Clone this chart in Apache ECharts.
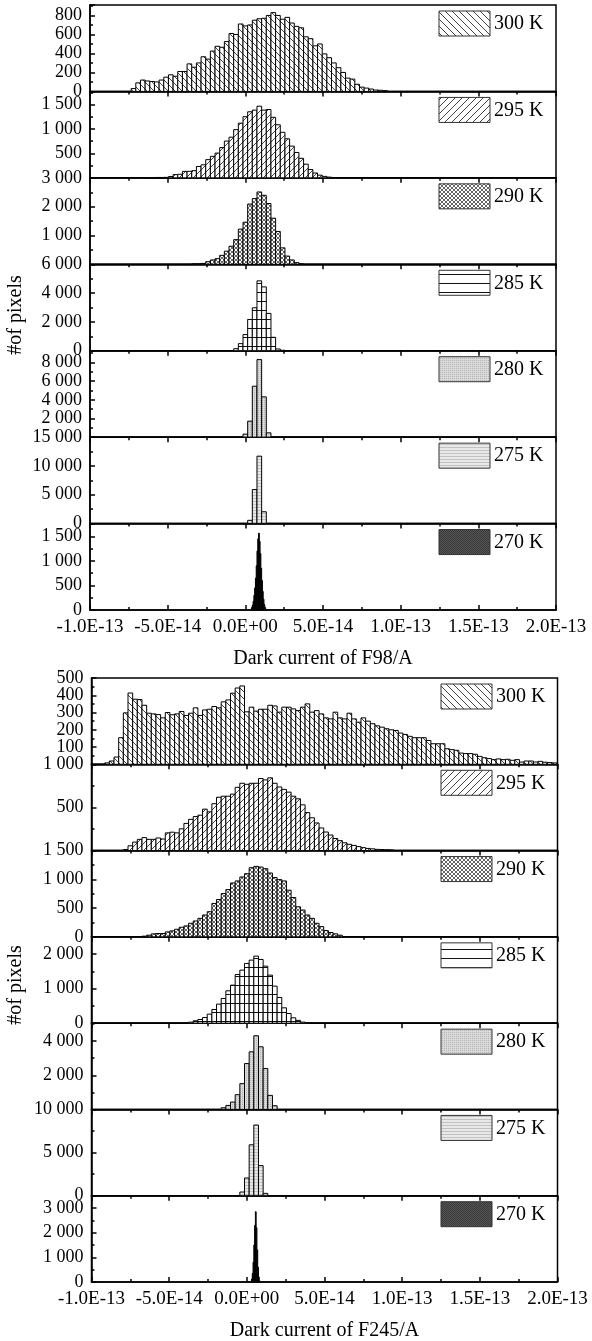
<!DOCTYPE html>
<html><head><meta charset="utf-8">
<script src="https://cdn.jsdelivr.net/npm/echarts@6/dist/echarts.min.js"></script>
<style>html,body{margin:0;padding:0;background:#fff}#c{width:592px;height:1341px}</style>
</head><body><div id="c"></div>
<script>
// ---------- DATA (x in units of 1e-14 A, counts = # of pixels) ----------
var temps = ['300 K', '295 K', '290 K', '285 K', '280 K', '275 K', '270 K'];
var xTickLabels = ['-1.0E-13', '-5.0E-14', '0.0E+00', '5.0E-14', '1.0E-13', '1.5E-13', '2.0E-13'];
var binWidth = 0.3;      // 3E-15 A
var binWidthFine = 0.05; // 5E-16 A (270 K)

// F98
var f98_300_start = -7.35;
var f98_300 = [30, 90, 120, 110, 105, 100, 120, 150, 175, 160, 210, 210, 290, 255, 300, 365, 340, 425, 475, 465, 525, 610, 600, 710, 690, 700, 750, 765, 770, 800, 830, 800, 760, 780, 720, 685, 670, 575, 555, 480, 500, 395, 355, 300, 250, 200, 140, 130, 75, 45, 35, 25, 15, 12, 8];
var f98_295_start = -6.45;
var f98_295 = [5, 5, 8, 8, 10, 27, 67, 73, 133, 133, 147, 233, 267, 373, 440, 507, 620, 753, 833, 987, 1120, 1253, 1353, 1387, 1467, 1387, 1400, 1240, 1087, 933, 800, 650, 520, 400, 280, 170, 100, 55, 30, 15];
var f98_290_start = -3.45;
var f98_290 = [10, 15, 30, 90, 150, 195, 310, 455, 627, 855, 1220, 1460, 2090, 2280, 2510, 2395, 2110, 1600, 1140, 570, 285, 150, 57, 15];
var f98_285_start = -0.75;
var f98_285 = [140, 490, 1120, 2170, 2980, 4850, 4430, 2590, 930, 120, 30];
var f98_280_start = -0.15;
var f98_280 = [320, 1710, 5450, 8300, 4310, 460];
var f98_275_start = 0.15;
var f98_275 = [565, 5900, 11700, 2050];
var f98_270_start = 0.35;
var f98_270 = [20, 50, 100, 180, 300, 450, 650, 900, 1200, 1450, 1565, 1400, 1150, 850, 600, 380, 220, 110, 50, 20];

// F245
var f245_300_start = -9.15;
var f245_300 = [8, 19, 42, 154, 298, 413, 377, 375, 342, 296, 292, 288, 269, 300, 287, 292, 306, 283, 296, 327, 283, 315, 319, 335, 327, 362, 373, 412, 442, 454, 304, 331, 308, 319, 319, 342, 338, 302, 331, 331, 321,
  311, 331, 350, 302, 311, 292, 269, 263, 302, 269, 263, 296, 263, 244, 269, 250, 235, 223, 215, 206, 200, 196, 181, 173, 162, 154, 154, 154, 138, 119, 119, 119, 90, 85, 81, 65, 62, 62, 58, 46, 38, 33, 27, 31, 27, 29, 23, 27, 13, 19, 19, 13, 17, 12, 10, 8];
var f245_295_start = -7.95;
var f245_295 = [12, 55, 98, 130, 150, 130, 130, 146, 134, 205, 213, 205, 252, 315, 362, 394, 410, 480, 449, 543, 618, 630, 630, 654, 733, 780, 768, 780, 780, 835, 819, 843, 780, 737, 709, 677, 630,
  600, 530, 440, 380, 320, 262, 215, 180, 140, 115, 90, 72, 60, 46, 34, 25, 20, 14, 12, 10, 8];
var f245_290_start = -6.75;
var f245_290 = [12, 29, 52, 58, 58, 86, 104, 132, 167, 190, 236, 276, 322, 380, 437, 581, 650, 753, 822, 937, 972, 1041, 1098, 1202, 1225, 1213, 1185, 1110, 1030, 995, 972, 811, 684,
  523, 466, 380, 322, 236, 178, 109, 75, 52, 29];
var f245_285_start = -3.75;
var f245_285 = [29, 68, 106, 164, 261, 396, 551, 715, 937, 1101, 1410, 1536, 1729, 1826, 1942, 1845, 1652, 1391, 1072, 744, 444, 280, 155, 80, 30, 10];
var f245_280_start = -1.65;
var f245_280 = [98, 235, 431, 862, 1509, 2685, 3371, 4312, 3665, 2391, 823, 216];
var f245_275_start = -0.45;
var f245_275 = [427, 2056, 5900, 8190, 3490, 272];
var f245_270_start = 0.25;
var f245_270 = [30, 120, 350, 800, 1500, 2300, 2850, 2200, 1300, 600, 200, 50];

// y axis scales
var f98YMax = [910, 1770, 3000, 6000, 9250, 15000, 1760];
var f98YStep = [200, 500, 1000, 2000, 2000, 5000, 500];
var f245YMax = [500, 1000, 1500, 2500, 5050, 10000, 3500];
var f245YStep = [100, 500, 500, 1000, 2000, 5000, 1000];

// ---------- STYLE / LAYOUT ----------
var FONT = 'Liberation Serif';
var X_MIN = -10, X_MAX = 20, X_STEP = 5;

function makePattern(kind) {
  var c = document.createElement('canvas'), x;
  function init(w, h, bg) { c.width = w; c.height = h; x = c.getContext('2d'); x.fillStyle = bg; x.fillRect(0, 0, w, h); }
  var s, k;
  if (kind === 'back' || kind === 'fwd') {
    s = 7; init(s, s, '#fff'); x.strokeStyle = '#444'; x.lineWidth = 1; x.beginPath();
    for (k = -1; k <= 1; k++) {
      if (kind === 'back') { x.moveTo(k * s, 0); x.lineTo(k * s + s, s); }
      else { x.moveTo(k * s, s); x.lineTo(k * s + s, 0); }
    }
    x.stroke();
  } else if (kind === 'cross') {
    s = 4; init(s, s, '#fff'); x.strokeStyle = '#555'; x.lineWidth = 0.9; x.beginPath();
    for (k = -1; k <= 1; k++) { x.moveTo(k * s, 0); x.lineTo(k * s + s, s); x.moveTo(k * s, s); x.lineTo(k * s + s, 0); }
    x.stroke();
  } else if (kind === 'horiz') {
    init(4, 9, '#fff'); x.fillStyle = '#111'; x.fillRect(0, 4, 4, 1);
  } else if (kind === 'dots') {
    init(2, 2, '#dadada'); x.fillStyle = '#b4b4b4'; x.fillRect(0, 0, 1, 1);
  } else if (kind === 'hlines') {
    init(2, 3, '#e8e8e8'); x.fillStyle = '#c2c2c2'; x.fillRect(0, 0, 2, 1);
  } else {
    init(2, 2, '#555'); x.fillStyle = '#3a3a3a'; x.fillRect(0, 0, 1, 1); x.fillRect(1, 1, 1, 1);
  }
  return { image: c, repeat: 'repeat' };
}
var patterns = ['back', 'fwd', 'cross', 'horiz', 'dots', 'hlines', 'dark'].map(makePattern);

function bins(start, w, counts) {
  return counts.map(function (c, i) { return [start + i * w, start + (i + 1) * w, c]; });
}
function fmtNum(v) { return String(Math.round(v)).replace(/\B(?=(\d{3})+(?!\d))/g, ' '); }

var groups = [
  { top: 5, bottom: 610, left: 90, width: 466, legX: 439, name: 'Dark current of F98/A', yNameY: 315,
    counts: [f98_300, f98_295, f98_290, f98_285, f98_280, f98_275, f98_270],
    starts: [f98_300_start, f98_295_start, f98_290_start, f98_285_start, f98_280_start, f98_275_start, f98_270_start],
    ymax: f98YMax, ystep: f98YStep },
  { top: 678, bottom: 1282, left: 91.5, width: 466, legX: 441, name: 'Dark current of F245/A', yNameY: 985,
    counts: [f245_300, f245_295, f245_290, f245_285, f245_280, f245_275, f245_270],
    starts: [f245_300_start, f245_295_start, f245_290_start, f245_285_start, f245_280_start, f245_275_start, f245_270_start],
    ymax: f245YMax, ystep: f245YStep }
];

var option = { animation: false, backgroundColor: '#fff', grid: [], xAxis: [], yAxis: [], series: [], graphic: [] };
var lineSt = { color: '#000', width: 1.5 };
var yLabelJobs = [];

groups.forEach(function (g) {
  var h = (g.bottom - g.top) / 7;
  for (var i = 0; i < 7; i++) {
    (function (i) {
      var idx = option.grid.length;
      var top = g.top + i * h;
      var last = i === 6;
      var step = g.ystep[i];
      var hideZero = i < 6 && (g.ymax[i + 1] % g.ystep[i + 1] === 0);
      yLabelJobs.push({ idx: idx, step: step, max: g.ymax[i], hideZero: hideZero, left: g.left });
      option.grid.push({ left: g.left, top: top, width: g.width, height: h, show: true, borderColor: '#000', borderWidth: 1.5, containLabel: false, outerBoundsMode: 'none' });
      option.xAxis.push({
        type: 'value', gridIndex: idx, min: X_MIN, max: X_MAX, interval: X_STEP, position: 'bottom',
        axisLine: { show: true, onZero: false, lineStyle: lineSt },
        axisTick: { show: true, inside: last, length: 5, lineStyle: lineSt },
        minorTick: { show: true, splitNumber: 2, length: 3, lineStyle: lineSt },
        splitLine: { show: false }, minorSplitLine: { show: false },
        axisLabel: { show: last, margin: 8, fontFamily: FONT, fontSize: 19, color: '#000', hideOverlap: false,
          formatter: function (v) { var k = Math.round((v - X_MIN) / X_STEP); return Math.abs(v - (X_MIN + k * X_STEP)) < 1e-6 ? xTickLabels[k] : ''; } },
        name: last ? g.name : '', nameLocation: 'middle', nameGap: 39,
        nameTextStyle: { fontFamily: FONT, fontSize: 20, color: '#000' }
      });
      option.yAxis.push({
        type: 'value', gridIndex: idx, min: 0, max: g.ymax[i], interval: step,
        axisLine: { show: true, onZero: false, lineStyle: lineSt },
        axisTick: { show: true, inside: true, length: 5, lineStyle: lineSt },
        minorTick: { show: true, splitNumber: 2, length: 3, lineStyle: lineSt },
        splitLine: { show: false }, minorSplitLine: { show: false },
        axisLabel: { show: false }
      });
      var pat = patterns[i];
      option.series.push({
        type: 'custom', name: temps[i], xAxisIndex: idx, yAxisIndex: idx,
        data: bins(g.starts[i], last ? binWidthFine : binWidth, g.counts[i]),
        encode: { x: [0, 1], y: 2 },
        renderItem: function (params, api) {
          var p0 = api.coord([api.value(0), api.value(2)]);
          var p1 = api.coord([api.value(1), 0]);
          return { type: 'rect', shape: { x: p0[0], y: p0[1], width: p1[0] - p0[0], height: p1[1] - p0[1] },
            style: { fill: pat, stroke: '#000', lineWidth: 1 } };
        }
      });
      option.graphic.push({ type: 'rect', z: 100, shape: { x: g.legX, y: top + 6, width: 51, height: 25 }, style: { fill: pat, stroke: '#333', lineWidth: 1 } });
      option.graphic.push({ type: 'text', z: 100, x: g.legX + 55, y: top + 19, style: { text: temps[i], fontFamily: FONT, fontSize: 20, fill: '#000', align: 'left', verticalAlign: 'middle' } });
    })(i);
  }
  option.graphic.push({ type: 'text', z: 100, x: 16, y: g.yNameY, rotation: Math.PI / 2,
    style: { text: '#of pixels', fontFamily: FONT, fontSize: 20, fill: '#000', align: 'center', verticalAlign: 'middle' } });
});

var chart = echarts.init(document.getElementById('c'), null, { renderer: 'canvas' });
chart.setOption(option);

// y tick labels placed through each axis' own scale (avoids automatic overlap hiding)
var extra = [];
yLabelJobs.forEach(function (j) {
  for (var v = 0; v <= j.max + 1e-9; v += j.step) {
    if (v === 0 && j.hideZero) continue;
    var p = chart.convertToPixel({ xAxisIndex: j.idx, yAxisIndex: j.idx }, [X_MIN, v]);
    extra.push({ type: 'text', z: 100, x: p[0] - 8, y: p[1],
      style: { text: fmtNum(v), fontFamily: FONT, fontSize: 18, fill: '#000', align: 'right', verticalAlign: 'middle' } });
  }
});
chart.setOption({ graphic: option.graphic.concat(extra) });
</script></body></html>
